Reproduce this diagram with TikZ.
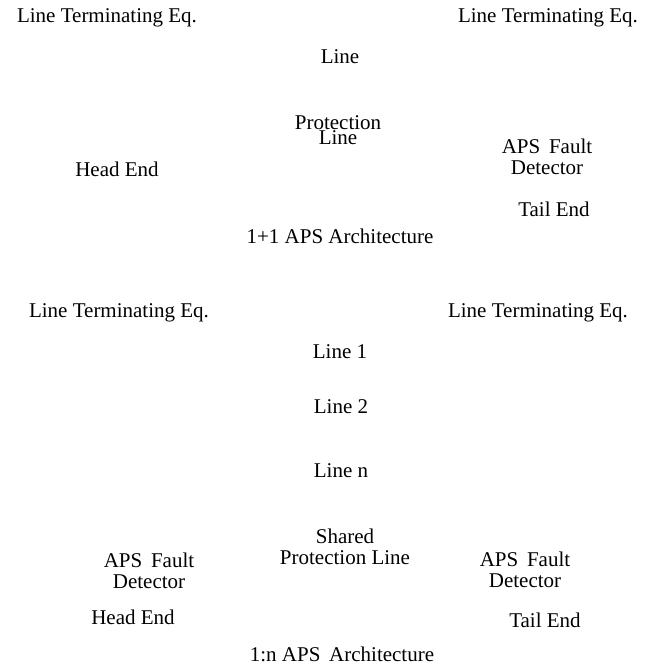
\documentclass[tikz,border=0pt]{standalone}
\usepackage{fontspec}
\setmainfont{Liberation Serif}
\usepackage{tikz}
\tikzset{
 tag/.style={
 inner sep=0pt,
 align=center,
 font=\fontsize{21}{21}\selectfont
 }
}

\begin{document}
\begin{tikzpicture}[x=1pt, y=-1pt]
 \useasboundingbox (0,0) rectangle (646,666);
 % 1+1 architecture
 \node[tag] (lteA) at (107,18) {Line Terminating Eq.};
 \node[tag] (lteB) at (548,18) {Line Terminating Eq.};
 \node[tag] (workline) at (340,57) {Line};
 \node[tag] (protline) at (338,130) {Protection\\[-6pt]Line};
 \node[tag] (headA) at (117,169) {Head End};
 \node[tag] (faultA) at (547,157) {APS\, Fault\\Detector};
 \node[tag] (tailA) at (554,209) {Tail End};
 \node[tag] (archA) at (340,236) {1+1 APS Architecture};

 % 1:n architecture
 \node[tag] (lteC) at (119,313) {Line Terminating Eq.};
 \node[tag] (lteD) at (538,313) {Line Terminating Eq.};
 \node[tag] (lineone) at (340,352) {Line 1};
 \node[tag] (linetwo) at (341,407) {Line 2};
 \node[tag] (linen) at (341,471) {Line n};
 \node[tag] (shared) at (345,547) {Shared\\Protection Line};
 \node[tag] (faultB) at (149,571) {APS\, Fault\\Detector};
 \node[tag] (faultC) at (525,570) {APS\, Fault\\Detector};
 \node[tag] (headB) at (133,617) {Head End};
 \node[tag] (tailB) at (545,620) {Tail End};
 \node[tag] (archB) at (342,654) {1:n APS\, Architecture};
\end{tikzpicture}
\end{document}
